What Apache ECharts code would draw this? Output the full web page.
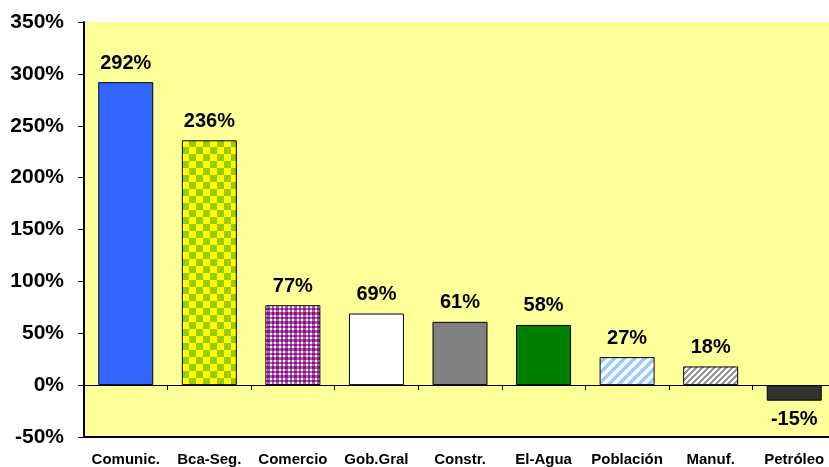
<!DOCTYPE html>
<html>
<head>
<meta charset="utf-8">
<script src="https://cdn.jsdelivr.net/npm/echarts@6/dist/echarts.min.js"></script>
<style>html,body{margin:0;padding:0;background:#fff;overflow:hidden;width:829px;height:467px;}#c{width:840px;height:467px;}</style>
</head>
<body>
<div id="c"></div>
<script>
var categories = ['Comunic.', 'Bca-Seg.', 'Comercio', 'Gob.Gral', 'Constr.', 'El-Agua', 'Población', 'Manuf.', 'Petróleo'];
var values = [292, 236, 77, 69, 61, 58, 27, 18, -15];
var yTicks = { min: -50, max: 350, interval: 50 };

function tile(size, fn) {
  var c = document.createElement('canvas');
  c.width = size; c.height = size;
  var ctx = c.getContext('2d');
  for (var y = 0; y < size; y++) {
    for (var x = 0; x < size; x++) {
      ctx.fillStyle = fn(x, y);
      ctx.fillRect(x, y, 1, 1);
    }
  }
  return c;
}
var checkYG = tile(14, function (x, y) {
  return ((Math.floor(x / 7) + Math.floor(y / 7)) % 2 === 0) ? '#FFFF00' : '#99CC00';
});
var checkPurple = tile(9, function (x, y) {
  var a = (x % 9) < 3 || ((x % 9) >= 5 && (x % 9) < 7) ? false : true;
  var px = [1, 1, 0, 2, 1, 1, 0, 2, 0][x], py = [1, 1, 0, 2, 1, 1, 0, 2, 0][y];
  if (px === 1 && py === 1) return '#FFFFFF';
  if (px === 2 && py === 2) return '#800080';
  if (px === 1 || py === 1) return '#B060B0';
  return '#901090';
});
var stripeBlue = tile(10, function (x, y) {
  return ((x + y) % 10 < 5) ? '#99CCFF' : '#FFFFFF';
});
var stripeGray = tile(6, function (x, y) {
  return ((x + y) % 6 < 3) ? '#969696' : '#FFFFFF';
});

var fills = [
  '#3366FF',
  { image: checkYG, repeat: 'repeat' },
  { image: checkPurple, repeat: 'repeat' },
  '#FFFFFF',
  '#808080',
  '#008000',
  { image: stripeBlue, repeat: 'repeat' },
  { image: stripeGray, repeat: 'repeat' },
  '#333333'
];

var labelFont = { fontFamily: 'Liberation Sans, Arial, sans-serif', fontWeight: 'bold', color: '#000' };

var data = values.map(function (v, i) {
  return {
    value: v,
    itemStyle: { color: fills[i], borderColor: '#000', borderWidth: 1 },
    label: { position: v < 0 ? 'bottom' : 'top' }
  };
});

var chart = echarts.init(document.getElementById('c'), null, { renderer: 'canvas' });
chart.setOption({
  animation: false,
  backgroundColor: '#FFFFFF',
  grid: { left: 84, right: 4, top: 22, bottom: 29, show: true, backgroundColor: '#FFFF99', borderWidth: 0 },
  xAxis: [
    {
      type: 'category', data: categories, position: 'bottom',
      axisLine: { onZero: true, lineStyle: { color: '#000', width: 1 } },
      axisTick: { show: true, length: 5, lineStyle: { color: '#000' } },
      axisLabel: { show: false },
      splitLine: { show: false }
    },
    {
      type: 'category', data: categories, position: 'bottom',
      axisLine: { onZero: false, lineStyle: { color: '#000', width: 2 } },
      axisTick: { show: false },
      axisLabel: Object.assign({ fontSize: 15, margin: 15, interval: 0 }, labelFont),
      splitLine: { show: false }
    }
  ],
  yAxis: {
    type: 'value', min: yTicks.min, max: yTicks.max, interval: yTicks.interval,
    axisLine: { show: true, lineStyle: { color: '#000', width: 2 } },
    axisTick: { show: true, length: 6, lineStyle: { color: '#000' } },
    axisLabel: Object.assign({ fontSize: 21, margin: 20, formatter: '{value}%' }, labelFont),
    splitLine: { show: false }
  },
  series: [{
    type: 'bar', xAxisIndex: 0, yAxisIndex: 0,
    barWidth: 55,
    data: data,
    label: Object.assign({ show: true, fontSize: 20, distance: 9, formatter: '{c}%' }, labelFont)
  }]
});
</script>
</body>
</html>
